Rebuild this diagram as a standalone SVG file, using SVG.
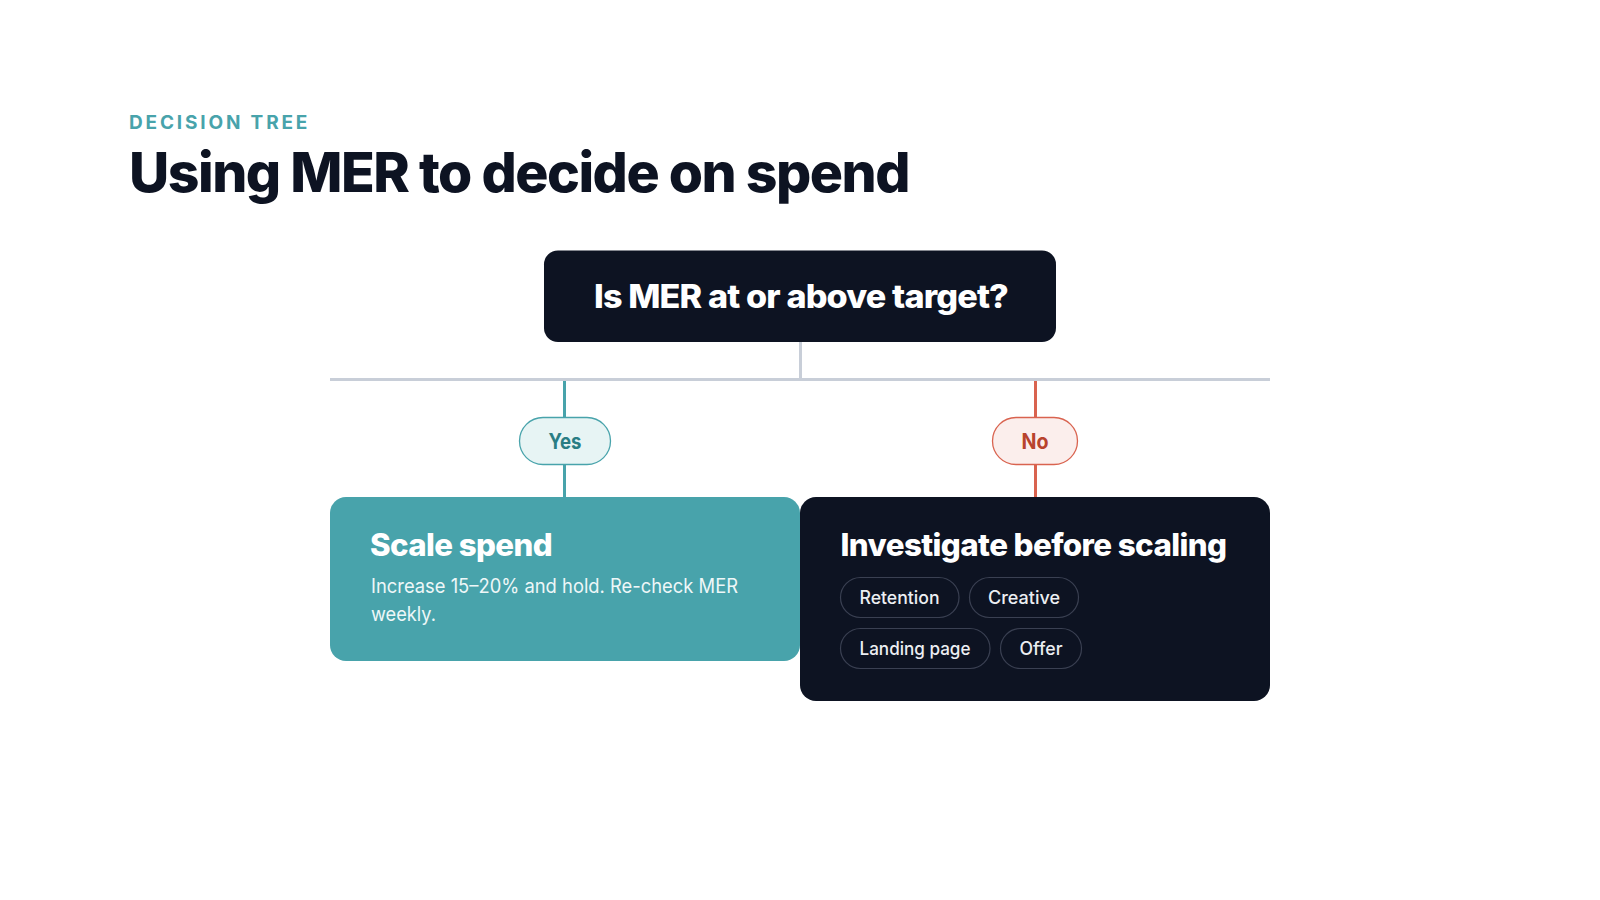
<svg xmlns="http://www.w3.org/2000/svg" width="1600" height="900" viewBox="0 0 1600 900">
  <style>
    .eyebrow { font-family: Inter, "Liberation Sans", sans-serif; font-weight: 700; font-size: 19px; fill: #48a3ab; letter-spacing: 3.6px; }
    .title { font-family: Inter, "Liberation Sans", sans-serif; font-weight: 800; font-size: 55px; fill: #0d1322; letter-spacing: -1.5px; }
    .q { font-family: Inter, "Liberation Sans", sans-serif; font-weight: 800; font-size: 32px; fill: #ffffff; letter-spacing: -0.8px; }
    .h { font-family: Inter, "Liberation Sans", sans-serif; font-weight: 800; font-size: 31px; fill: #ffffff; letter-spacing: -0.6px; }
    .body { font-family: Inter, "Liberation Sans", sans-serif; font-weight: 400; font-size: 19.5px; fill: #eef7f8; }
    .chip rect { fill: #0d1322; stroke: #3a4052; stroke-width: 1.2; }
    .chip text { font-family: Inter, "Liberation Sans", sans-serif; font-weight: 500; font-size: 18px; fill: #eceef2; text-anchor: middle; }
    .pill { font-family: Inter, "Liberation Sans", sans-serif; font-weight: 700; font-size: 21px; text-anchor: middle; }
    .gray { stroke: #c8ced8; stroke-width: 3; fill: none; }
    .teal { stroke: #48a3ab; stroke-width: 3; fill: none; }
    .red { stroke: #d9634f; stroke-width: 3; fill: none; }
  </style>
  <rect x="0" y="0" width="1600" height="900" fill="#ffffff"/>

  <g id="header">
    <text class="eyebrow" x="129" y="129" textLength="182" lengthAdjust="spacing">DECISION TREE</text>
    <text class="title" x="129" y="192" textLength="780" lengthAdjust="spacingAndGlyphs">Using MER to decide on spend</text>
  </g>

  <g id="connectors">
    <line class="gray" x1="800.5" y1="342" x2="800.5" y2="379.5"/>
    <line class="gray" x1="330" y1="379.5" x2="1270" y2="379.5"/>
    <line class="teal" x1="564.5" y1="381" x2="564.5" y2="418"/>
    <line class="teal" x1="564.5" y1="464" x2="564.5" y2="498"/>
    <line class="red" x1="1035.5" y1="381" x2="1035.5" y2="418"/>
    <line class="red" x1="1035.5" y1="464" x2="1035.5" y2="498"/>
  </g>

  <g id="question">
    <rect x="544" y="250.5" width="512" height="91.5" rx="14" fill="#0d1322"/>
    <text class="q" x="801" y="307.5" text-anchor="middle" textLength="414" lengthAdjust="spacingAndGlyphs">Is MER at or above target?</text>
  </g>

  <g id="yes-label">
    <rect x="519.5" y="417.5" width="91" height="47" rx="23.5" fill="#e7f4f4" stroke="#48a3ab" stroke-width="1.3"/>
    <text class="pill" x="565" y="448.5" fill="#2a7d84" textLength="33" lengthAdjust="spacingAndGlyphs">Yes</text>
  </g>

  <g id="no-label">
    <rect x="992.5" y="417.5" width="85" height="47" rx="23.5" fill="#fbeeec" stroke="#d9634f" stroke-width="1.3"/>
    <text class="pill" x="1035" y="448.5" fill="#b8432d" textLength="27" lengthAdjust="spacingAndGlyphs">No</text>
  </g>

  <g id="scale-spend">
    <rect x="330" y="497" width="470" height="164" rx="16" fill="#48a3ab"/>
    <text class="h" x="370" y="555.5" textLength="182" lengthAdjust="spacingAndGlyphs">Scale spend</text>
    <text class="body" x="371" y="592.5" textLength="367" lengthAdjust="spacingAndGlyphs">Increase 15–20% and hold. Re-check MER</text>
    <text class="body" x="371" y="620.5" textLength="65" lengthAdjust="spacingAndGlyphs">weekly.</text>
  </g>

  <g id="investigate">
    <rect x="800" y="497" width="470" height="204" rx="16" fill="#0d1322"/>
    <text class="h" x="840.5" y="555.5" textLength="386" lengthAdjust="spacingAndGlyphs">Investigate before scaling</text>
    <g class="chip" id="chip-retention">
      <rect x="840.5" y="577.5" width="118.5" height="40" rx="20"/>
      <text x="899.5" y="604" textLength="80" lengthAdjust="spacingAndGlyphs">Retention</text>
    </g>
    <g class="chip" id="chip-creative">
      <rect x="969.5" y="577.5" width="109" height="40" rx="20"/>
      <text x="1024" y="604" textLength="72" lengthAdjust="spacingAndGlyphs">Creative</text>
    </g>
    <g class="chip" id="chip-landing">
      <rect x="840.5" y="628.5" width="149.5" height="40" rx="20"/>
      <text x="915" y="655" textLength="111" lengthAdjust="spacingAndGlyphs">Landing page</text>
    </g>
    <g class="chip" id="chip-offer">
      <rect x="1000.5" y="628.5" width="81" height="40" rx="20"/>
      <text x="1041" y="655" textLength="43" lengthAdjust="spacingAndGlyphs">Offer</text>
    </g>
  </g>
</svg>
